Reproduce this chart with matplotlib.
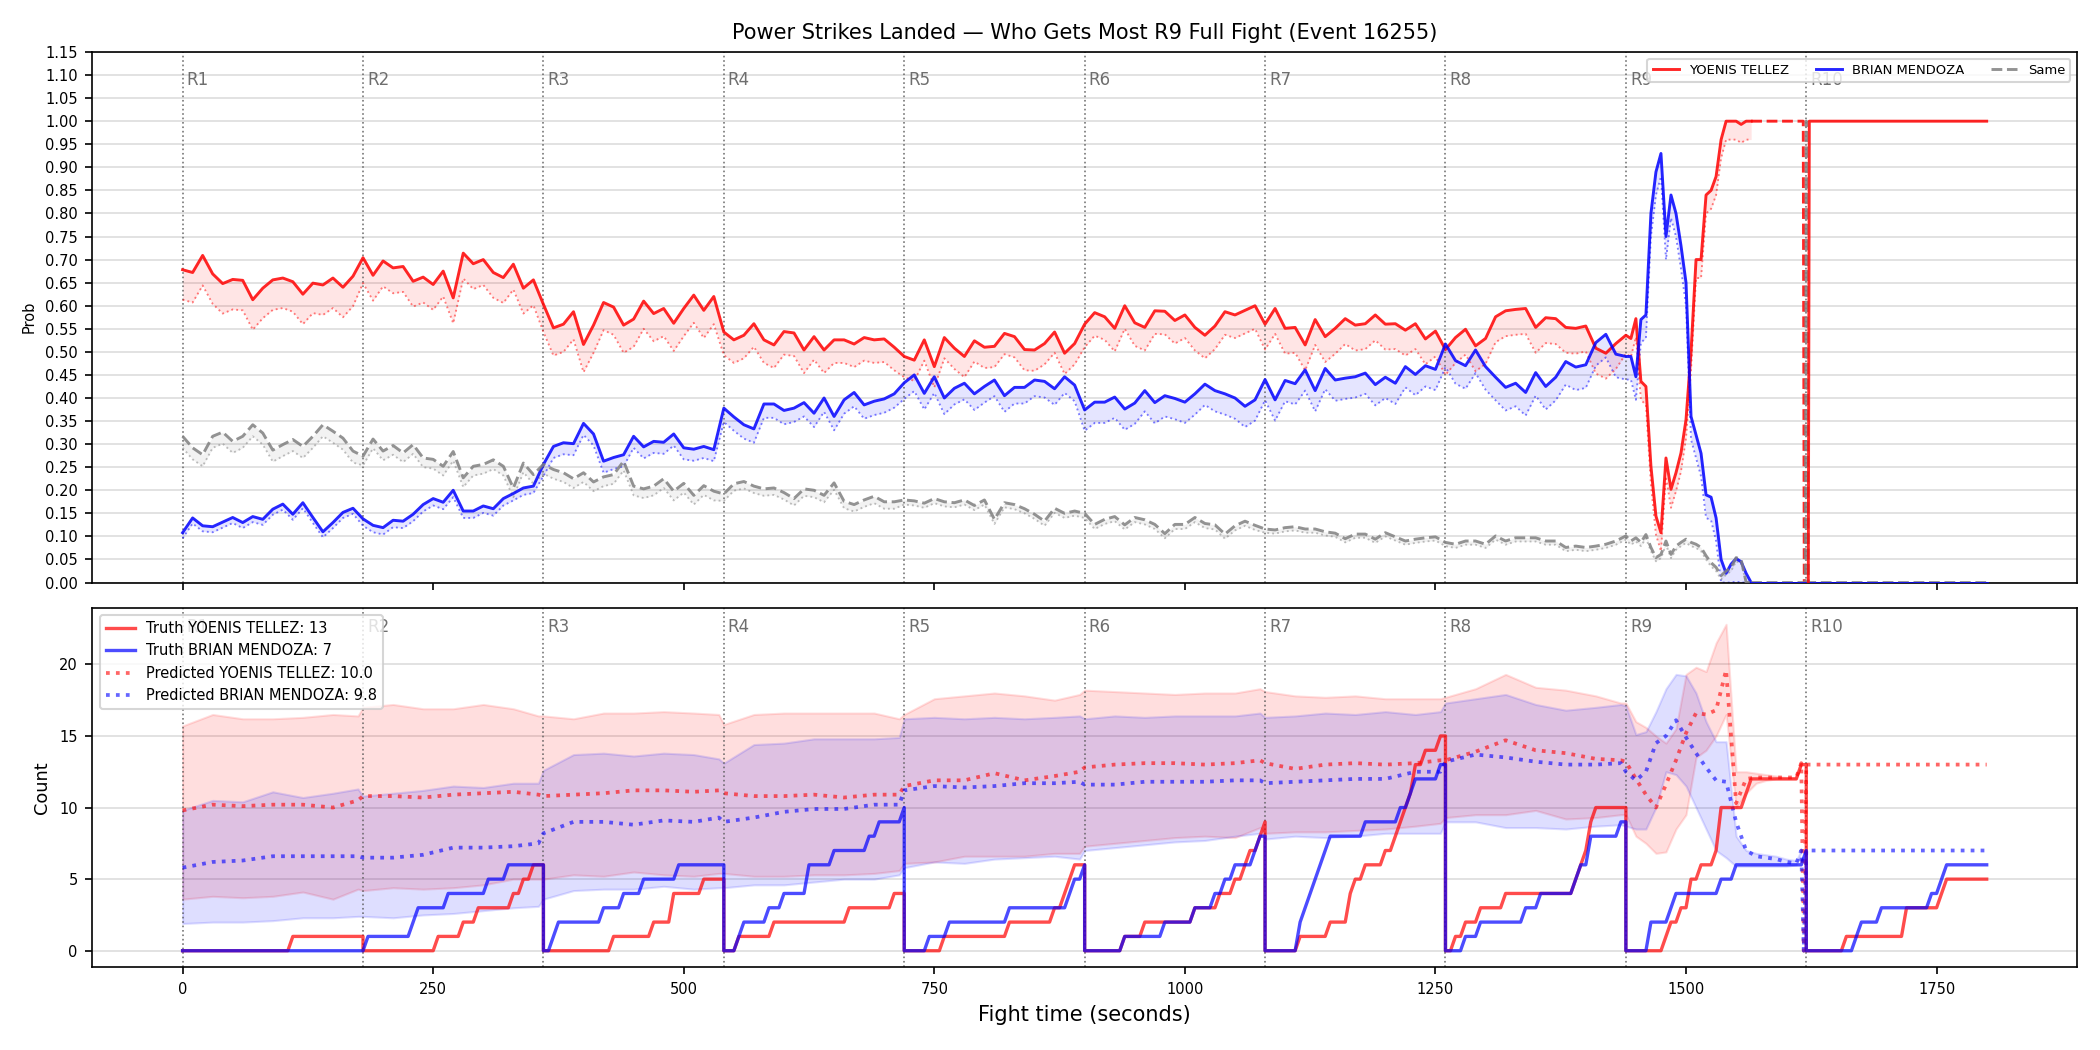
import numpy as np
import matplotlib
matplotlib.use("Agg")
import matplotlib.pyplot as plt
import matplotlib.transforms as mtransforms

# ---------------- data ----------------
TITLE = "Power Strikes Landed \u2014 Who Gets Most R9 Full Fight (Event 16255)"
ROUND_STARTS = [0, 180, 360, 540, 720, 900, 1080, 1260, 1440, 1620]
ROUND_LABELS = ["R1", "R2", "R3", "R4", "R5", "R6", "R7", "R8", "R9", "R10"]
FIGHT_END = 1800
RED_NAME = "YOENIS TELLEZ"
BLUE_NAME = "BRIAN MENDOZA"

# top panel: probabilities, every 10 s for 0..1430 then every 5 s for 1440..1565
red_prob = [
    0.678, 0.672, 0.709, 0.669, 0.648, 0.657, 0.655, 0.613, 0.638, 0.656, 0.66, 0.652, 0.625, 0.649, 0.645, 0.66, 0.64, 0.664,
    0.704, 0.666, 0.697, 0.682, 0.685, 0.653, 0.662, 0.646, 0.675, 0.617, 0.714, 0.691, 0.70, 0.672, 0.661, 0.69, 0.638, 0.656,
    0.603, 0.552, 0.56, 0.587, 0.516, 0.558, 0.607, 0.597, 0.558, 0.571, 0.61, 0.583, 0.594, 0.562, 0.594, 0.623, 0.59, 0.62,
    0.543, 0.526, 0.536, 0.561, 0.526, 0.515, 0.544, 0.541, 0.504, 0.533, 0.504, 0.526, 0.526, 0.517, 0.531, 0.526, 0.528, 0.51,
    0.49, 0.482, 0.526, 0.468, 0.531, 0.508, 0.49, 0.524, 0.51, 0.512, 0.54, 0.533, 0.505, 0.504, 0.518, 0.543, 0.497, 0.518,
    0.56, 0.585, 0.576, 0.551, 0.6, 0.563, 0.553, 0.589, 0.588, 0.568, 0.58, 0.553, 0.536, 0.556, 0.587, 0.58, 0.59, 0.6,
    0.56, 0.594, 0.551, 0.553, 0.515, 0.57, 0.533, 0.551, 0.572, 0.558, 0.561, 0.58, 0.56, 0.561, 0.547, 0.561, 0.528, 0.545,
    0.505, 0.531, 0.549, 0.513, 0.529, 0.576, 0.589, 0.592, 0.594, 0.553, 0.574, 0.572, 0.553, 0.551, 0.556, 0.508, 0.497, 0.518,
    0.536, 0.529, 0.572, 0.436, 0.425, 0.252, 0.144, 0.108, 0.27, 0.202, 0.238, 0.281, 0.353, 0.5, 0.70, 0.70, 0.84, 0.85,
    0.88, 0.96, 1.0, 1.0, 1.0, 0.993, 1.0, 1.0,
]
blue_prob = [
    0.108, 0.14, 0.123, 0.121, 0.131, 0.141, 0.13, 0.143, 0.137, 0.159, 0.17, 0.148, 0.173, 0.141, 0.11, 0.13, 0.152, 0.161,
    0.138, 0.124, 0.119, 0.135, 0.133, 0.148, 0.169, 0.182, 0.174, 0.2, 0.155, 0.155, 0.166, 0.16, 0.182, 0.193, 0.205, 0.209,
    0.256, 0.295, 0.303, 0.301, 0.345, 0.322, 0.263, 0.271, 0.277, 0.317, 0.294, 0.306, 0.304, 0.322, 0.292, 0.289, 0.295, 0.288,
    0.378, 0.359, 0.342, 0.333, 0.387, 0.387, 0.373, 0.378, 0.39, 0.367, 0.4, 0.36, 0.396, 0.412, 0.385, 0.393, 0.398, 0.409,
    0.433, 0.45, 0.41, 0.446, 0.4, 0.421, 0.432, 0.409, 0.425, 0.439, 0.405, 0.423, 0.423, 0.439, 0.436, 0.42, 0.446, 0.428,
    0.374, 0.391, 0.391, 0.402, 0.376, 0.389, 0.416, 0.39, 0.405, 0.399, 0.391, 0.409, 0.43, 0.416, 0.409, 0.4, 0.382, 0.396,
    0.44, 0.396, 0.438, 0.431, 0.461, 0.416, 0.464, 0.439, 0.443, 0.446, 0.454, 0.429, 0.445, 0.432, 0.468, 0.451, 0.47, 0.462,
    0.517, 0.481, 0.47, 0.504, 0.468, 0.445, 0.423, 0.432, 0.412, 0.455, 0.425, 0.445, 0.479, 0.467, 0.472, 0.52, 0.538, 0.495,
    0.49, 0.49, 0.446, 0.57, 0.58, 0.80, 0.89, 0.93, 0.75, 0.84, 0.80, 0.73, 0.65, 0.36, 0.32, 0.28, 0.19, 0.185,
    0.14, 0.05, 0.02, 0.04, 0.052, 0.045, 0.02, 0.0,
]
same_prob = [
    0.317, 0.292, 0.277, 0.317, 0.326, 0.306, 0.317, 0.342, 0.324, 0.287, 0.299, 0.31, 0.295, 0.317, 0.342, 0.328, 0.313, 0.285,
    0.274, 0.311, 0.285, 0.297, 0.281, 0.299, 0.27, 0.267, 0.252, 0.284, 0.227, 0.252, 0.256, 0.266, 0.252, 0.205, 0.259, 0.234,
    0.256, 0.245, 0.238, 0.225, 0.238, 0.218, 0.229, 0.234, 0.263, 0.209, 0.203, 0.209, 0.225, 0.198, 0.215, 0.189, 0.21, 0.198,
    0.192, 0.214, 0.219, 0.209, 0.203, 0.205, 0.195, 0.182, 0.203, 0.2, 0.189, 0.216, 0.176, 0.169, 0.179, 0.187, 0.175, 0.175,
    0.179, 0.177, 0.172, 0.182, 0.175, 0.173, 0.179, 0.167, 0.179, 0.137, 0.173, 0.169, 0.16, 0.148, 0.133, 0.161, 0.15, 0.155,
    0.15, 0.126, 0.137, 0.143, 0.125, 0.141, 0.136, 0.126, 0.106, 0.126, 0.126, 0.141, 0.128, 0.125, 0.105, 0.123, 0.133, 0.124,
    0.116, 0.114, 0.119, 0.121, 0.116, 0.116, 0.11, 0.107, 0.095, 0.105, 0.105, 0.094, 0.108, 0.099, 0.09, 0.094, 0.097, 0.099,
    0.087, 0.083, 0.09, 0.09, 0.083, 0.101, 0.09, 0.097, 0.097, 0.097, 0.09, 0.09, 0.076, 0.079, 0.076, 0.079, 0.083, 0.09,
    0.101, 0.09, 0.097, 0.087, 0.104, 0.076, 0.054, 0.061, 0.09, 0.061, 0.079, 0.087, 0.094, 0.087, 0.083, 0.076, 0.058, 0.043,
    0.033, 0.015, 0.025, 0.033, 0.054, 0.05, 0.0, 0.0,
]
# width of the lower (dotted) band under each probability line, per round R1..R9
red_band_width = [0.065, 0.055, 0.06, 0.05, 0.045, 0.05, 0.055, 0.055, 0.04]
blue_band_width = [0.012, 0.015, 0.025, 0.03, 0.035, 0.045, 0.045, 0.05, 0.05]
same_band_width = [0.025, 0.02, 0.02, 0.015, 0.01, 0.01, 0.008, 0.008, 0.008]

# end of fight segment of the probability panel
red_tail_t = [1565, 1617, 1618]
red_tail_v = [1.0, 1.0, 0.0]
same_tail_t = [1565, 1619, 1620, 1622, 1800]
same_tail_v = [0.0, 0.0, 1.0, 0.0, 0.0]
red_final_t = [1622, 1623, 1800]
red_final_v = [0.0, 1.0, 1.0]
blue_final_t = [1565, 1800]
blue_final_v = [0.0, 0.0]

# bottom panel: truth strikes, time of each landed strike (count resets each round)
red_strikes = [
    [110],
    [255, 280, 295, 330, 340, 350],
    [430, 470, 487, 490, 520],
    [555, 590, 665, 710],
    [760, 825, 870, 877, 883, 890],
    [940, 960, 1010, 1035, 1050, 1058, 1063, 1073, 1078],
    [1112, 1145, 1163, 1165, 1167, 1178, 1200, 1208, 1212, 1217, 1221, 1226, 1230, 1238, 1253],
    [1268, 1280, 1295, 1320, 1390, 1395, 1398, 1402, 1405, 1408],
    [1477, 1485, 1495, 1503, 1505, 1512, 1530, 1532, 1533, 1535, 1560, 1564, 1615],
    [1657, 1718, 1720, 1755, 1760],
]
blue_strikes = [
    [],
    [185, 230, 235, 265, 305, 325],
    [370, 375, 420, 440, 460, 495],
    [555, 560, 585, 600, 625, 625, 650, 685, 695, 720],
    [745, 765, 825, 885, 890, 900],
    [938, 980, 1008, 1030, 1040, 1050, 1068, 1075],
    [1112, 1115, 1118, 1122, 1127, 1133, 1140, 1145, 1176, 1212, 1222, 1228, 1253],
    [1280, 1294, 1340, 1355, 1390, 1395, 1404, 1404, 1435],
    [1462, 1465, 1485, 1490, 1535, 1546, 1616],
    [1668, 1673, 1695, 1745, 1755, 1760],
]

# predictions: R1-R8 sampled at round offsets 0,30,60,90,120,150,175 s; R9 every 10 s + 175
PRED_OFFSETS = [0, 30, 60, 90, 120, 150, 175]
PRED_OFFSETS_R9 = [0, 10, 20, 30, 40, 50, 60, 70, 80, 90, 100, 110, 120, 130, 140, 150, 160, 170, 175]
red_pred = [
    9.8, 10.2, 10.1, 10.2, 10.2, 10.0, 10.5,
    10.8, 10.8, 10.7, 10.9, 11.0, 11.1, 10.9,
    10.8, 10.9, 11.0, 11.2, 11.2, 11.1, 11.2,
    11.0, 10.8, 10.8, 10.9, 10.7, 10.9, 10.9,
    11.5, 11.9, 11.9, 12.4, 11.9, 12.2, 12.5,
    12.8, 13.0, 13.1, 13.1, 13.0, 13.1, 13.3,
    13.1, 12.7, 13.0, 13.1, 13.0, 13.1, 13.3,
    13.3, 13.9, 14.7, 14.0, 13.8, 13.4, 13.3,
    13.2, 12.0, 10.9, 10.0, 11.6, 13.3, 15.2, 16.6, 16.5, 16.8, 19.6, 10.3, 12.0, 12.1, 12.1, 12.1, 12.1, 12.1, 13.1,
]
blue_pred = [
    5.8, 6.2, 6.3, 6.6, 6.6, 6.6, 6.6,
    6.5, 6.5, 6.7, 7.2, 7.2, 7.3, 7.5,
    8.2, 9.0, 9.0, 8.8, 9.1, 9.0, 9.3,
    9.0, 9.3, 9.7, 9.9, 9.9, 10.2, 10.2,
    11.2, 11.5, 11.4, 11.5, 11.7, 11.7, 11.8,
    11.6, 11.6, 11.8, 11.8, 11.8, 11.9, 11.9,
    11.7, 11.8, 11.9, 12.0, 12.0, 12.5, 12.5,
    13.2, 13.7, 13.5, 13.2, 13.0, 13.0, 13.1,
    12.5, 11.9, 12.5, 14.5, 15.0, 16.1, 14.9, 13.8, 12.8, 11.9, 11.8, 9.0, 7.0, 6.6, 6.5, 6.4, 6.2, 6.1, 7.0,
]
red_upper = [
    15.7, 16.5, 16.2, 16.2, 16.3, 16.5, 16.4,
    17.0, 17.2, 16.9, 16.9, 17.2, 16.9, 16.4,
    16.4, 16.2, 16.6, 16.6, 16.7, 16.6, 16.5,
    15.8, 16.5, 16.6, 16.6, 16.6, 16.6, 16.2,
    16.5, 17.6, 17.8, 18.0, 17.8, 17.5, 17.9,
    18.2, 18.1, 18.0, 17.9, 18.0, 18.0, 18.3,
    18.1, 17.8, 17.7, 17.8, 17.6, 17.6, 17.6,
    17.7, 18.3, 19.3, 18.4, 18.2, 17.8, 17.3,
    17.3, 16.0, 15.6, 15.0, 14.5, 15.5, 19.3, 19.8, 19.5, 21.5, 22.8, 12.5, 12.5, 12.4, 12.3, 12.2, 12.1, 12.1, 13.0,
]
red_lower = [
    3.6, 3.8, 3.7, 3.8, 4.1, 3.6, 4.3,
    4.2, 4.4, 4.3, 4.4, 4.6, 5.0, 5.0,
    5.0, 5.3, 5.2, 5.5, 5.3, 5.2, 5.4,
    5.4, 5.2, 5.2, 5.3, 5.3, 5.4, 5.6,
    6.1, 6.2, 6.6, 6.6, 6.6, 6.8, 6.8,
    7.3, 7.5, 7.7, 7.9, 8.0, 7.9, 8.6,
    8.2, 8.3, 8.3, 8.4, 8.5, 8.7, 8.9,
    9.3, 9.5, 9.5, 9.8, 9.2, 9.3, 9.5,
    9.5, 8.0, 7.5, 6.8, 6.9, 8.5, 9.5, 13.5, 14.0, 15.0, 16.5, 10.0, 11.0, 11.7, 11.9, 12.0, 12.0, 12.0, 13.0,
]
blue_upper = [
    9.8, 10.5, 10.4, 11.1, 10.7, 11.0, 11.3,
    10.8, 11.0, 11.2, 11.5, 11.4, 11.7, 11.7,
    12.6, 13.7, 13.8, 13.6, 13.8, 13.7, 13.4,
    13.1, 14.4, 14.5, 14.8, 14.8, 14.8, 14.9,
    16.2, 16.3, 16.2, 16.3, 16.2, 16.3, 16.4,
    16.2, 16.4, 16.3, 16.4, 16.4, 16.4, 16.6,
    16.3, 16.4, 16.6, 16.5, 16.7, 16.5, 16.7,
    17.3, 17.6, 17.9, 17.2, 16.8, 17.0, 17.2,
    17.1, 15.1, 15.3, 16.7, 18.3, 19.3, 19.2, 18.0, 16.0, 14.6, 14.6, 8.0, 7.0, 6.8, 6.7, 6.6, 6.4, 6.3, 7.0,
]
blue_lower = [
    1.9, 2.0, 2.0, 2.1, 2.3, 2.3, 2.4,
    2.4, 2.3, 2.5, 2.6, 2.8, 3.0, 3.1,
    3.6, 4.2, 4.3, 4.3, 4.5, 4.3, 4.4,
    4.4, 4.6, 4.6, 4.8, 5.0, 5.0, 5.3,
    5.8, 6.2, 6.1, 6.4, 6.5, 6.6, 6.4,
    7.0, 7.2, 7.4, 7.6, 7.7, 8.0, 8.2,
    7.8, 8.0, 7.9, 8.0, 8.2, 8.2, 8.2,
    9.0, 9.0, 8.6, 8.6, 8.5, 8.7, 8.8,
    8.7, 8.5, 8.5, 10.0, 12.5, 12.3, 11.5, 10.0, 8.5, 7.0, 6.5, 5.9, 5.9, 5.9, 5.9, 5.9, 5.9, 6.0, 7.0,
]
# after the fight ends the predictions collapse onto the final counts
pred_tail_t = [1617.5, 1620, 1800]
red_pred_tail = [0.0, 13.0, 13.0]
blue_pred_tail = [0.0, 7.0, 7.0]

RED_TOTAL = 13
BLUE_TOTAL = 7
RED_PRED_LABEL = 10.0
BLUE_PRED_LABEL = 9.8

# ---------------- derived time axes ----------------
t_top = np.concatenate([np.arange(0, 1440, 10), np.arange(1440, 1570, 5)]).astype(float)
round_idx = np.clip(np.searchsorted(ROUND_STARTS, t_top, side="right") - 1, 0, 8)
red_p = np.array(red_prob)
blue_p = np.array(blue_prob)
same_p = np.array(same_prob)
red_lo = red_p - np.array(red_band_width)[round_idx]
blue_lo = np.clip(blue_p - np.array(blue_band_width)[round_idx], 0, None)
same_lo = np.clip(same_p - np.array(same_band_width)[round_idx], 0, None)

pred_t = np.concatenate(
    [np.array(PRED_OFFSETS) + s for s in ROUND_STARTS[:8]] + [np.array(PRED_OFFSETS_R9) + ROUND_STARTS[8]]
).astype(float)

truth_t, truth_red, truth_blue = [], [], []
round_ends = ROUND_STARTS[1:] + [FIGHT_END]
for s, e, rs, bs in zip(ROUND_STARTS, round_ends, red_strikes, blue_strikes):
    tt = np.arange(s, e + 0.1, 5.0)
    truth_t.append(tt)
    truth_red.append(np.searchsorted(np.sort(rs), tt, side="right"))
    truth_blue.append(np.searchsorted(np.sort(bs), tt, side="right"))
truth_t = np.concatenate(truth_t)
truth_red = np.concatenate(truth_red)
truth_blue = np.concatenate(truth_blue)

# ---------------- figure ----------------
plt.rcParams["font.family"] = ["DejaVu Sans"]
fig = plt.figure(figsize=(14, 7), dpi=150)
ax1 = fig.add_axes([0.044, 0.4452, 0.945, 0.5053])
ax2 = fig.add_axes([0.044, 0.079, 0.945, 0.342], sharex=ax1)

RED = "#ff0000"
BLUE = "#0000ff"
GRAY = "#808080"

# --- top panel ---
ax1.plot(t_top, red_p, color=RED, lw=1.4, alpha=0.85, label=RED_NAME, zorder=3)
ax1.plot(t_top, red_lo, color=RED, lw=0.9, ls=":", alpha=0.5, zorder=2)
ax1.fill_between(t_top, red_lo, red_p, color=RED, alpha=0.1, lw=0)
ax1.plot(t_top, blue_p, color=BLUE, lw=1.4, alpha=0.85, label=BLUE_NAME, zorder=3)
ax1.plot(t_top, blue_lo, color=BLUE, lw=0.9, ls=":", alpha=0.5, zorder=2)
ax1.fill_between(t_top, blue_lo, blue_p, color=BLUE, alpha=0.1, lw=0)
ax1.plot(t_top, same_p, color=GRAY, lw=1.4, ls="--", alpha=0.85, label="Same", zorder=3)
ax1.plot(t_top, same_lo, color=GRAY, lw=0.9, ls=":", alpha=0.5, zorder=2)
ax1.fill_between(t_top, same_lo, same_p, color=GRAY, alpha=0.1, lw=0)

ax1.plot(red_tail_t, red_tail_v, color=RED, lw=1.4, ls="--", alpha=0.85, zorder=3)
ax1.plot(same_tail_t, same_tail_v, color=GRAY, lw=1.4, ls="--", alpha=0.85, zorder=3)
ax1.plot(blue_final_t, blue_final_v, color=BLUE, lw=1.4, alpha=0.85, zorder=3)
ax1.plot(red_final_t, red_final_v, color=RED, lw=1.4, alpha=0.85, zorder=3)

ax1.set_ylim(0, 1.15)
ax1.set_yticks(np.round(np.arange(0, 1.151, 0.05), 2))
ax1.set_ylabel("Prob", fontsize=7)
ax1.tick_params(axis="both", labelsize=7)
ax1.tick_params(axis="x", labelbottom=False)
ax1.grid(axis="y", color="#dddddd", lw=0.8)
ax1.set_axisbelow(True)
ax1.set_title(TITLE, fontsize=10)
ax1.legend(loc="upper right", ncol=3, fontsize=6.3, framealpha=0.8)

# --- bottom panel ---
ax2.fill_between(pred_t, red_lower, red_upper, color=RED, alpha=0.13)
ax2.fill_between(pred_t, blue_lower, blue_upper, color=BLUE, alpha=0.13)
ax2.plot(truth_t, truth_red, color=RED, lw=1.6, alpha=0.7,
         label=f"Truth {RED_NAME}: {RED_TOTAL}", zorder=4)
ax2.plot(truth_t, truth_blue, color=BLUE, lw=1.6, alpha=0.7,
         label=f"Truth {BLUE_NAME}: {BLUE_TOTAL}", zorder=4)
ax2.plot(np.concatenate([pred_t, pred_tail_t]), np.concatenate([red_pred, red_pred_tail]),
         color=RED, lw=1.8, ls=":", alpha=0.6, label=f"Predicted {RED_NAME}: {RED_PRED_LABEL:.1f}", zorder=3)
ax2.plot(np.concatenate([pred_t, pred_tail_t]), np.concatenate([blue_pred, blue_pred_tail]),
         color=BLUE, lw=1.8, ls=":", alpha=0.6, label=f"Predicted {BLUE_NAME}: {BLUE_PRED_LABEL:.1f}", zorder=3)
ax2.set_ylabel("Count", fontsize=8.5)
ax2.set_xlabel("Fight time (seconds)", fontsize=10)
ax2.tick_params(axis="both", labelsize=7)
ax2.grid(axis="y", color="#dddddd", lw=0.8)
ax2.set_axisbelow(True)
ax2.legend(loc="upper left", fontsize=7, framealpha=0.8)

# round markers
for ax in (ax1, ax2):
    trans = mtransforms.blended_transform_factory(ax.transData, ax.transAxes)
    for s, lab in zip(ROUND_STARTS, ROUND_LABELS):
        ax.axvline(s, color="#555555", ls=":", lw=0.8, alpha=0.8, zorder=1)
        ax.text(s + 4, 0.948, lab, transform=trans, fontsize=8, color="#555555",
                alpha=0.85, ha="left", va="center", zorder=1)

ax1.set_xlim(-90, 1890)
fig.savefig("out.png", dpi=150)
